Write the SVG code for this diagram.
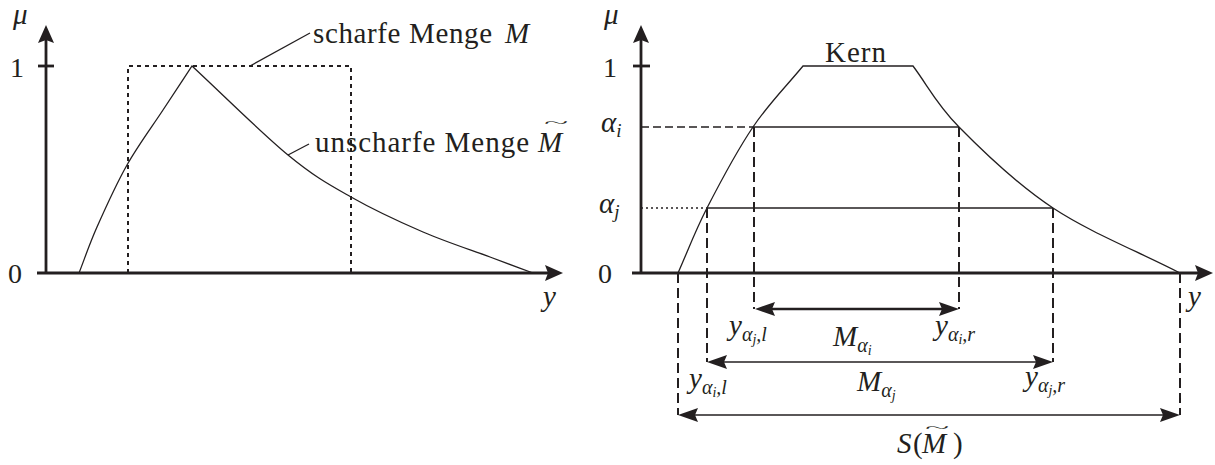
<svg xmlns="http://www.w3.org/2000/svg" width="1215" height="465" viewBox="0 0 1215 465" font-family="'Liberation Serif','Times New Roman',Tinos,'Noto Serif','DejaVu Serif',FreeSerif,Times,serif">
<style>
.ax{stroke:#231f20;stroke-width:2.8;fill:none}
.cv{stroke:#231f20;stroke-width:1.3;fill:none}
.dot{stroke:#231f20;stroke-width:2;fill:none;stroke-dasharray:4 4}
.dash{stroke:#231f20;stroke-width:2;fill:none;stroke-dasharray:10 5}
.hdash{stroke:#231f20;stroke-width:1.5;fill:none;stroke-dasharray:8 4}
.hdot{stroke:#231f20;stroke-width:1.6;fill:none;stroke-dasharray:2 3}
.dim{stroke:#231f20;stroke-width:1.3;fill:none;marker-start:url(#arr);marker-end:url(#arr)}
.dimb{stroke:#231f20;stroke-width:2.6;fill:none;marker-start:url(#arr);marker-end:url(#arr)}
text{font-family:'Liberation Serif','Times New Roman',Tinos,'Noto Serif','DejaVu Serif',FreeSerif,Times,serif;font-size:29px;fill:#231f20}
.mi{font-style:italic}
.num{font-size:28px}
.til{font-size:14px}
</style>
<defs>
<marker id="arr" viewBox="-10 -8 20 16" refX="0" refY="0" markerWidth="20" markerHeight="16" markerUnits="userSpaceOnUse" orient="auto-start-reverse">
<path d="M10,0 L-10,-7 L-7,0 L-10,7 Z" fill="#231f20"/>
</marker>
<marker id="axarr" viewBox="-9 -9 18 18" refX="0" refY="0" markerWidth="18" markerHeight="18" markerUnits="userSpaceOnUse" orient="auto">
<path d="M9,0 L-9,-8 L-6,0 L-9,8 Z" fill="#231f20"/>
</marker>
</defs>

<g id="left-chart">
<g id="left-axes">
<line class="ax" x1="46" y1="274" x2="46" y2="34" marker-end="url(#axarr)"/>
<line class="ax" x1="37" y1="273" x2="554" y2="273" marker-end="url(#axarr)"/>
<line class="ax" x1="38" y1="66" x2="54" y2="66"/>
<text class="mi" x="13" y="24" font-size="26">μ</text>
<text class="num" x="17" y="77" text-anchor="middle">1</text>
<text class="num" x="15" y="283" text-anchor="middle">0</text>
<text class="mi" x="543" y="306">y</text>
</g>
<g id="crisp-set">
<path class="dot" d="M128,273 V66 H351 V273"/>
<line class="cv" x1="250" y1="66" x2="310" y2="33"/>
<text x="313" y="43" textLength="179" lengthAdjust="spacing">scharfe Menge</text>
<text class="mi" x="505" y="43">M</text>
</g>
<g id="fuzzy-set">
<path class="cv" d="M79,273 C85,257.7 89,245 97,227 C105,209 116,184.5 127,165 C138,145.5 152.2,126.5 163,110 C173.8,93.5 182.3,80.7 192,66 C224,95.7 261.5,133.2 288,155 C314.5,176.8 328.5,184.2 351,197 C373.5,209.8 399.8,222 423,232 C446.2,242 471.7,250.2 490,257 C508.3,263.8 518.7,267.7 533,273"/>
<line class="cv" x1="288" y1="155" x2="309" y2="144"/>
<text x="315" y="152" textLength="214" lengthAdjust="spacing">unscharfe Menge</text>
<text class="mi" x="538" y="152">M</text>
<text class="til" x="0" y="0" text-anchor="middle" transform="translate(556,128) scale(3.2,1)">~</text>
</g>
</g>

<g id="right-chart">
<g id="right-axes">
<line class="ax" x1="641" y1="274" x2="641" y2="34" marker-end="url(#axarr)"/>
<line class="ax" x1="632" y1="273" x2="1204" y2="273" marker-end="url(#axarr)"/>
<line class="ax" x1="633" y1="66" x2="650" y2="66"/>
<text class="mi" x="604" y="24" font-size="26">μ</text>
<text class="num" x="610" y="77" text-anchor="middle">1</text>
<text class="num" x="605" y="283" text-anchor="middle">0</text>
<text class="mi" x="1188" y="306">y</text>
<text class="mi" x="601" y="132">α<tspan font-size="19" dy="5">i</tspan></text>
<text class="mi" x="599" y="213">α<tspan font-size="19" dy="5">j</tspan></text>
</g>
<g id="fuzzy-trapezoid">
<path class="cv" d="M678,273 C687.7,251.3 694.5,232.3 707,208 C719.5,183.7 737,150.7 753,127 C769,103.3 786.3,86.3 803,66 H913 C928.3,86.3 935.7,103.3 959,127 C982.3,150.7 1016.2,183.7 1053,208 C1089.8,232.3 1137.7,251.3 1180,273"/>
<text x="825" y="62" textLength="61" lengthAdjust="spacing">Kern</text>
</g>
<g id="alpha-cuts">
<line class="hdash" x1="641" y1="127" x2="753" y2="127"/>
<line class="cv" x1="753" y1="127" x2="959" y2="127"/>
<line class="hdot" x1="641" y1="208" x2="707" y2="208"/>
<line class="cv" x1="707" y1="208" x2="1053" y2="208"/>
<line class="dash" x1="754" y1="127" x2="754" y2="309"/>
<line class="dash" x1="959" y1="127" x2="959" y2="309"/>
<line class="dash" x1="707" y1="208" x2="707" y2="362"/>
<line class="dash" x1="1053" y1="208" x2="1053" y2="362"/>
<line class="dash" x1="678" y1="273" x2="678" y2="415"/>
<line class="dash" x1="1180" y1="273" x2="1180" y2="415"/>
</g>
<g id="connectors">
<line class="dimb" x1="765" y1="309" x2="949" y2="309"/>
<line class="dim" x1="717" y1="362" x2="1043" y2="362"/>
<line class="dim" x1="688" y1="415" x2="1170" y2="415"/>
</g>
<g id="dim-labels">
<text class="mi" x="729" y="335">y<tspan font-size="20" dy="6">α</tspan><tspan font-size="14" dy="3">j</tspan><tspan font-size="20" dy="-3">,l</tspan></text>
<text class="mi" x="833" y="346">M<tspan font-size="20" dy="6">α</tspan><tspan font-size="14" dy="3">i</tspan></text>
<text class="mi" x="935" y="335">y<tspan font-size="20" dy="6">α</tspan><tspan font-size="14" dy="3">i</tspan><tspan font-size="20" dy="-3">,r</tspan></text>
<text class="mi" x="689" y="388">y<tspan font-size="20" dy="6">α</tspan><tspan font-size="14" dy="3">i</tspan><tspan font-size="20" dy="-3">,l</tspan></text>
<text class="mi" x="857" y="391">M<tspan font-size="20" dy="6">α</tspan><tspan font-size="14" dy="3">j</tspan></text>
<text class="mi" x="1025" y="386">y<tspan font-size="20" dy="6">α</tspan><tspan font-size="14" dy="3">j</tspan><tspan font-size="20" dy="-3">,r</tspan></text>
<text x="897" y="453"><tspan class="mi">S</tspan><tspan x="913">(</tspan><tspan class="mi" x="922">M</tspan><tspan x="953">)</tspan></text>
<text class="til" x="0" y="0" text-anchor="middle" transform="translate(937,433) scale(3.2,1)">~</text>
</g>
</g>
</svg>
